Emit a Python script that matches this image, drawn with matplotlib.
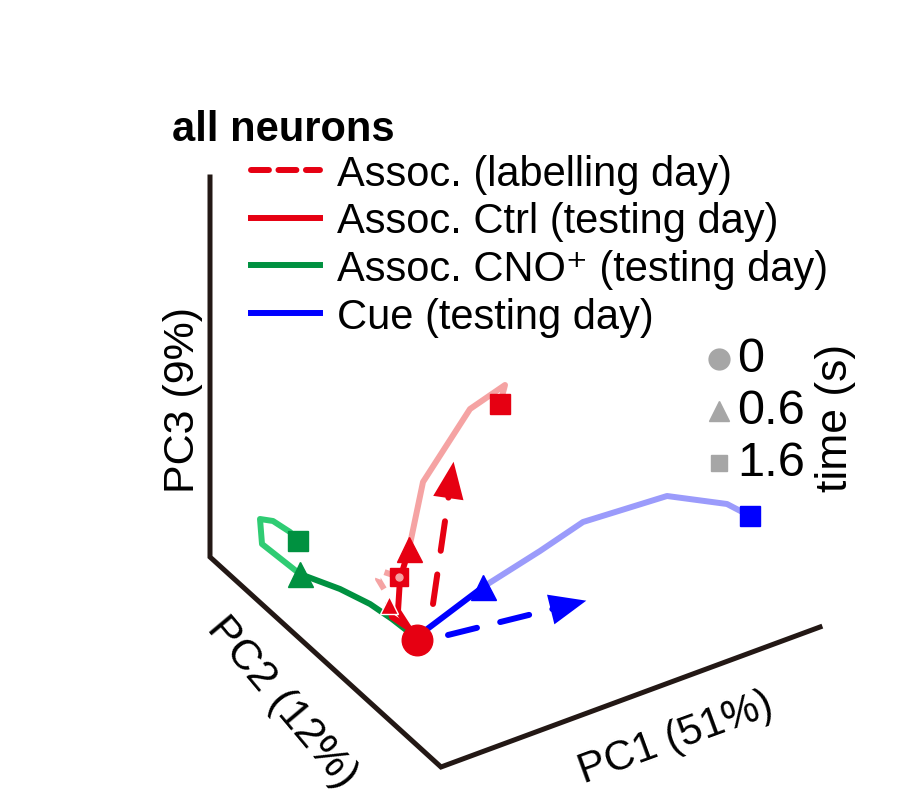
import matplotlib.pyplot as plt
from matplotlib.lines import Line2D
import numpy as np

plt.rcParams['font.family'] = ['Liberation Sans', 'DejaVu Sans']

# projected PCA trajectories (screen coords of the 3D view)
origin = (417, 641)

# Assoc. Ctrl (testing day): early part (0-0.6 s) and late part (0.6-1.6 s)
ctrl_early_x = [416, 398, 400, 409]
ctrl_early_y = [640, 612, 580, 550]
ctrl_late_x = [409, 423, 470, 505, 500]
ctrl_late_y = [550, 483, 410, 386, 405]

# second, short red trajectory near the origin
ctrl2_early_x = [410, 392, 389]
ctrl2_early_y = [630, 618, 606]
ctrl2_late_x = [384, 378, 381, 399]
ctrl2_late_y = [590, 580, 572, 578]

# Assoc. CNO+ (testing day)
cno_early_x = [410, 392, 370, 340, 300]
cno_early_y = [634, 620, 605, 590, 575]
cno_late_x = [300, 262, 260, 273, 290, 298]
cno_late_y = [575, 545, 520, 522, 533, 542]

# Cue (testing day)
cue_early_x = [418, 483]
cue_early_y = [637, 588]
cue_late_x = [483, 540, 583, 667, 727, 750]
cue_late_y = [588, 552, 523, 497, 505, 517]

# summary arrows (labelling day)
red_arrow_x = [433, 454]
red_arrow_y = [605, 460]
blue_arrow_x = [448, 589]
blue_arrow_y = [636, 601]

# axes frame of the 3D box
frame_x = [210, 210, 441, 820]
frame_y = [178, 558, 768, 628]

labels = ['Assoc. (labelling day)', 'Assoc. Ctrl (testing day)',
          'Assoc. CNO\u207a (testing day)', 'Cue (testing day)']
time_labels = ['0', '0.6', '1.6']
time_markers = ['o', '^', 's']

red = '#e60012'
pink = '#f5a3a3'
dgreen = '#009140'
lgreen = '#2fcc73'
blue = '#0000ff'
lblue = '#9b9bfb'

fig = plt.figure(figsize=(9.13, 8.12), dpi=100)
ax = fig.add_axes([0, 0, 1, 1])
ax.set_xlim(0, 913)
ax.set_ylim(812, 0)
ax.axis('off')

ax.plot(frame_x, frame_y, color='#231815', lw=3.6, solid_joinstyle='miter')

lw = 4.3
# late (light) parts first
ax.plot(ctrl_late_x, ctrl_late_y, color=pink, lw=lw, solid_capstyle='round')
ax.plot(ctrl2_late_x, ctrl2_late_y, color=pink, lw=lw, dashes=(2, 2))
ax.plot(cno_late_x, cno_late_y, color=lgreen, lw=lw)
ax.plot(cue_late_x, cue_late_y, color=lblue, lw=lw)

ax.plot(cno_early_x, cno_early_y, color=dgreen, lw=lw)
ax.plot(cue_early_x, cue_early_y, color=blue, lw=lw)
ax.plot(ctrl_early_x, ctrl_early_y, color=red, lw=lw)
ax.plot(ctrl2_early_x, ctrl2_early_y, color=red, lw=lw)

# dashed summary arrows
for xs, ys, c in [(red_arrow_x, red_arrow_y, red), (blue_arrow_x, blue_arrow_y, blue)]:
    dx, dy = xs[1] - xs[0], ys[1] - ys[0]
    n = np.hypot(dx, dy)
    ax.plot([xs[0], xs[1] - dx / n * 20], [ys[0], ys[1] - dy / n * 20],
            color=c, lw=lw, dashes=(5, 4), dash_capstyle='round')
    ax.annotate('', xy=(xs[1], ys[1]), xytext=(xs[1] - dx / n * 25, ys[1] - dy / n * 25),
                arrowprops=dict(arrowstyle='-|>,head_length=1.2,head_width=0.5',
                                color=c, lw=0, mutation_scale=22))

# markers: 0 s, 0.6 s, 1.6 s
ax.plot(cno_early_x[-1], cno_early_y[-1], '^', color=dgreen, ms=18)
ax.plot(cno_late_x[-1], cno_late_y[-1], 's', color=dgreen, ms=14)
ax.plot(cue_early_x[-1], cue_early_y[-1], '^', color=blue, ms=18)
ax.plot(cue_late_x[-1], cue_late_y[-1], 's', color=blue, ms=14)
ax.plot(ctrl_early_x[-1], ctrl_early_y[-1], '^', color=red, ms=18)
ax.plot(ctrl_late_x[-1], ctrl_late_y[-1], 's', color=red, ms=14)
ax.plot(ctrl2_early_x[-1], ctrl2_early_y[-1], '^', color=red, ms=13, mec='white', mew=1)
ax.plot(ctrl2_late_x[-1], ctrl2_late_y[-1], 's', color=red, ms=13, mec=red)
ax.plot(ctrl2_late_x[-1], ctrl2_late_y[-1], 'o', color=pink, ms=5)
ax.plot(origin[0], origin[1], 'o', color=red, ms=22)

# axis labels
ax.text(183, 400, 'PC3 (9%)', rotation=90, fontsize=31, ha='center', va='center')
ax.text(282, 703, 'PC2 (12%)', rotation=-50, fontsize=31, ha='center', va='center')
ax.text(676, 738, 'PC1 (51%)', rotation=20, fontsize=30, ha='center', va='center')

ax.text(172, 130, 'all neurons', fontsize=30, fontweight='bold', ha='left', va='center')

handles = [Line2D([], [], color=red, lw=lw, dashes=(3, 1.6), dash_capstyle='round'),
           Line2D([], [], color=red, lw=lw),
           Line2D([], [], color=dgreen, lw=lw),
           Line2D([], [], color=blue, lw=lw)]
ax.legend(handles, labels, loc='upper left', bbox_to_anchor=(251 / 913, 1 - 155 / 812),
          frameon=False, fontsize=30, handlelength=1.65, handletextpad=0.42,
          labelspacing=0.18, borderpad=0, borderaxespad=0)

time_y = [360, 412, 464]
for m, t, ty in zip(time_markers, time_labels, time_y):
    ax.plot(719, ty, m, color='#a6a6a6', ms=15 if m != 's' else 12)
    ax.text(737, ty, t, fontsize=35, ha='left', va='center')
ax.text(836, 418, 'time (s)', rotation=90, fontsize=32, ha='center', va='center')

fig.savefig('out.png', dpi=100)
